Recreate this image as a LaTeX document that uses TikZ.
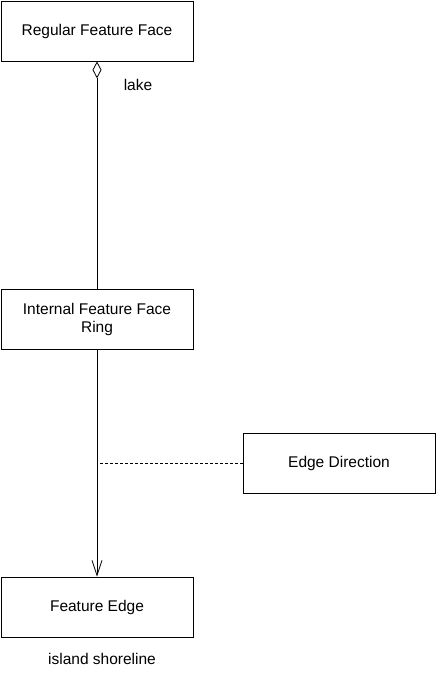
\documentclass[tikz,border=0pt]{standalone}
\usepackage{fontspec}
\setmainfont{Liberation Sans}
\usepackage{tikz}
\usetikzlibrary{arrows.meta}

\tikzset{
  umlclass/.style={draw,line width=0.8pt,minimum width=192pt,minimum height=60pt,
    align=center,font=\fontsize{15.5}{18}\selectfont,inner sep=0pt},
  umllabel/.style={font=\fontsize{15.5}{18}\selectfont,inner sep=0pt}
}

\begin{document}
\begin{tikzpicture}[x=1pt,y=-1pt]
		\useasboundingbox (0,0) rectangle (436,676);
		% CLASSES
		\node [umlclass] (face) at (97,31) {Regular Feature Face};
		\node [umlclass] (ring) at (97,319) {Internal Feature Face\\Ring};
		\node [umlclass] (edge) at (97,607) {Feature Edge};
		\node [umlclass] (dir) at (339,463) {Edge Direction};
		% ROLES
		\node [umllabel] (lake) at (138,85) {lake};
		\node [umllabel] (shore) at (102,659) {island shoreline};
		% LINKS
		\draw [{Diamond[open,length=17pt,width=9pt]}-,line width=0.8pt] (face.south) -- (ring.north);
		\draw [-{Straight Barb[length=15pt,width=10pt]},line width=0.8pt] (ring.south) -- (edge.north);
		\coordinate (assoc) at (100,463);
		\draw [dashed,dash pattern=on 3pt off 2pt,line width=0.8pt] (assoc) -- (dir.west);
\end{tikzpicture}
\end{document}
